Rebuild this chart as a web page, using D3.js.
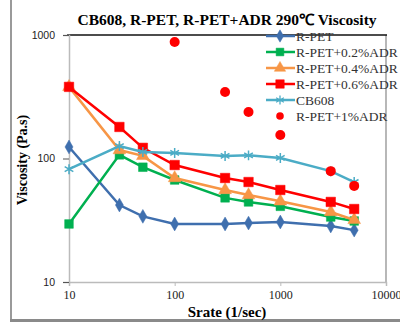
<!DOCTYPE html>
<html>
<head>
<meta charset="utf-8">
<script src="https://cdn.jsdelivr.net/npm/d3@7"></script>
<style>
  body { margin: 0; background: #fff; }
  svg { display: block; }
</style>
</head>
<body>
<div id="chart"></div>
<script>
// shear rates (1/sec) and viscosity (Pa.s)
const rates = [10, 30, 50, 100, 300, 500, 1000, 3000, 5000];
const rpet     = [124, 42, 34, 29.5, 29.5, 30, 30.6, 28.4, 26.3];
const adr02    = [29.5, 107, 85, 67, 48, 44.5, 41, 33.6, 31.2];
const adr04    = [380, 117, 105, 69.5, 55.6, 50.6, 45, 36.9, 31.8];
const adr06    = [380, 180, 122, 88.5, 69.5, 64.5, 55.6, 44.5, 39];
const cb608    = [82, 126, 113, 111, 105, 106, 101, 79, 64.5];
const adr1Rate = [100, 300, 500, 1000, 3000, 5000];
const adr1     = [877, 345, 238, 155, 79, 60];

const xTicks = [10, 100, 1000, 10000];
const yTicks = [10, 100, 1000];

const W = 400, H = 325;
const plot = {left: 69, right: 386, top: 35, bottom: 282};

const svg = d3.select("#chart").append("svg")
    .attr("width", W)
    .attr("height", H);

// outer chart frame (only left and bottom edges show in the picture)
svg.append("line").attr("x1", 11).attr("x2", 11).attr("y1", 0).attr("y2", 320)
    .attr("stroke", "#9a9a9a").attr("stroke-width", 2);
svg.append("line").attr("x1", 10).attr("x2", W).attr("y1", 320.5).attr("y2", 320.5)
    .attr("stroke", "#8a8a8a").attr("stroke-width", 3);

const x = d3.scaleLog().domain([10, 10000]).range([plot.left, plot.right]);
const y = d3.scaleLog().domain([10, 1000]).range([plot.bottom, plot.top]);

// plot area border
svg.append("line").attr("x1", plot.right).attr("x2", plot.right)
    .attr("y1", plot.top).attr("y2", plot.bottom)
    .attr("stroke", "#888").attr("stroke-width", 1.2);
svg.append("line").attr("x1", plot.left - 2).attr("x2", plot.right + 1)
    .attr("y1", plot.top).attr("y2", plot.top)
    .attr("stroke", "#111").attr("stroke-width", 1.5);

// axes
const xAxis = svg.append("g")
    .attr("transform", `translate(0,${plot.bottom})`)
    .call(d3.axisBottom(x).tickValues(xTicks).tickFormat(d3.format("d")).tickSizeOuter(0).tickSize(4));
xAxis.select(".domain").attr("stroke", "#bbb").attr("stroke-width", 1.5);
xAxis.selectAll(".tick line").attr("stroke", "#bbb");
xAxis.selectAll("text")
    .attr("font-family", "'Liberation Serif', serif")
    .attr("font-size", 12)
    .attr("fill", "#222")
    .attr("dy", "0.85em");

const yAxis = svg.append("g")
    .attr("transform", `translate(${plot.left},0)`)
    .call(d3.axisLeft(y).tickValues(yTicks).tickFormat(d3.format("d")).tickSizeOuter(0).tickSize(6));
yAxis.select(".domain").attr("stroke", "#bbb").attr("stroke-width", 1.5);
yAxis.selectAll(".tick line").attr("stroke", "#555");
yAxis.selectAll("text")
    .attr("font-family", "'Liberation Sans', Arial, sans-serif")
    .attr("font-size", 10.5)
    .attr("fill", "#222")
    .attr("x", -14);

// titles
svg.append("text")
    .attr("x", 227).attr("y", 25)
    .attr("text-anchor", "middle")
    .attr("font-family", "'Liberation Serif', serif")
    .attr("font-weight", "bold")
    .attr("font-size", 15.5)
    .text("CB608, R-PET, R-PET+ADR 290℃ Viscosity");

svg.append("text")
    .attr("x", 227).attr("y", 317)
    .attr("text-anchor", "middle")
    .attr("font-family", "'Liberation Serif', serif")
    .attr("font-weight", "bold")
    .attr("font-size", 15)
    .text("Srate (1/sec)");

svg.append("text")
    .attr("transform", "translate(27,160) rotate(-90)")
    .attr("text-anchor", "middle")
    .attr("font-family", "'Liberation Serif', serif")
    .attr("font-weight", "bold")
    .attr("font-size", 14)
    .text("Viscosity (Pa.s)");

const series = [
    {name: "R-PET",          vals: rpet,  color: "#3f6fae", symbol: d3.symbolDiamond,  size: 55},
    {name: "R-PET+0.2%ADR",  vals: adr02, color: "#00b050", symbol: d3.symbolSquare,   size: 75},
    {name: "R-PET+0.4%ADR",  vals: adr04, color: "#f79646", symbol: d3.symbolTriangle, size: 70},
    {name: "R-PET+0.6%ADR",  vals: adr06, color: "#ff0000", symbol: d3.symbolSquare,   size: 90},
    {name: "CB608",          vals: cb608, color: "#4bacc6", symbol: d3.symbolAsterisk, size: 70}
];

const line = d3.line()
    .x(d => x(d[0]))
    .y(d => y(d[1]));

series.forEach(s => {
    const pts = rates.map((r, i) => [r, s.vals[i]]);
    const g = svg.append("g");
    g.append("path")
        .datum(pts)
        .attr("d", line)
        .attr("fill", "none")
        .attr("stroke", s.color)
        .attr("stroke-width", 2.5);
    g.selectAll("path.pt")
        .data(pts)
        .join("path")
        .attr("class", "pt")
        .attr("transform", d => `translate(${x(d[0])},${y(d[1])})`)
        .attr("d", d3.symbol(s.symbol, s.size))
        .attr("fill", s.color)
        .attr("stroke", s.color)
        .attr("stroke-width", s.symbol === d3.symbolAsterisk ? 1.5 : 0.5);
});

// 1% ADR: markers only
svg.append("g").selectAll("circle")
    .data(adr1Rate.map((r, i) => [r, adr1[i]]))
    .join("circle")
    .attr("cx", d => x(d[0]))
    .attr("cy", d => y(d[1]))
    .attr("r", 5)
    .attr("fill", "#ff0000");

// legend
const legend = svg.append("g");
const legendItems = series.concat([{name: "R-PET+1%ADR", color: "#ff0000", dot: true}]);
legendItems.forEach((s, i) => {
    const ly = 36 + i * 16;
    const item = legend.append("g");
    if (!s.dot) {
        item.append("line")
            .attr("x1", 266).attr("x2", 295)
            .attr("y1", ly).attr("y2", ly)
            .attr("stroke", s.color).attr("stroke-width", 2.5);
        item.append("path")
            .attr("transform", `translate(280,${ly})`)
            .attr("d", d3.symbol(s.symbol, s.size * 0.8))
            .attr("fill", s.color)
            .attr("stroke", s.color)
            .attr("stroke-width", s.symbol === d3.symbolAsterisk ? 1.3 : 0.5);
    } else {
        item.append("circle")
            .attr("cx", 280).attr("cy", ly)
            .attr("r", 3.8)
            .attr("fill", s.color);
    }
    item.append("text")
        .attr("x", 296).attr("y", ly)
        .attr("dy", "0.35em")
        .attr("font-family", "'Liberation Serif', serif")
        .attr("font-size", 13.5)
        .attr("fill", "#333")
        .text(s.name);
});
</script>
</body>
</html>
